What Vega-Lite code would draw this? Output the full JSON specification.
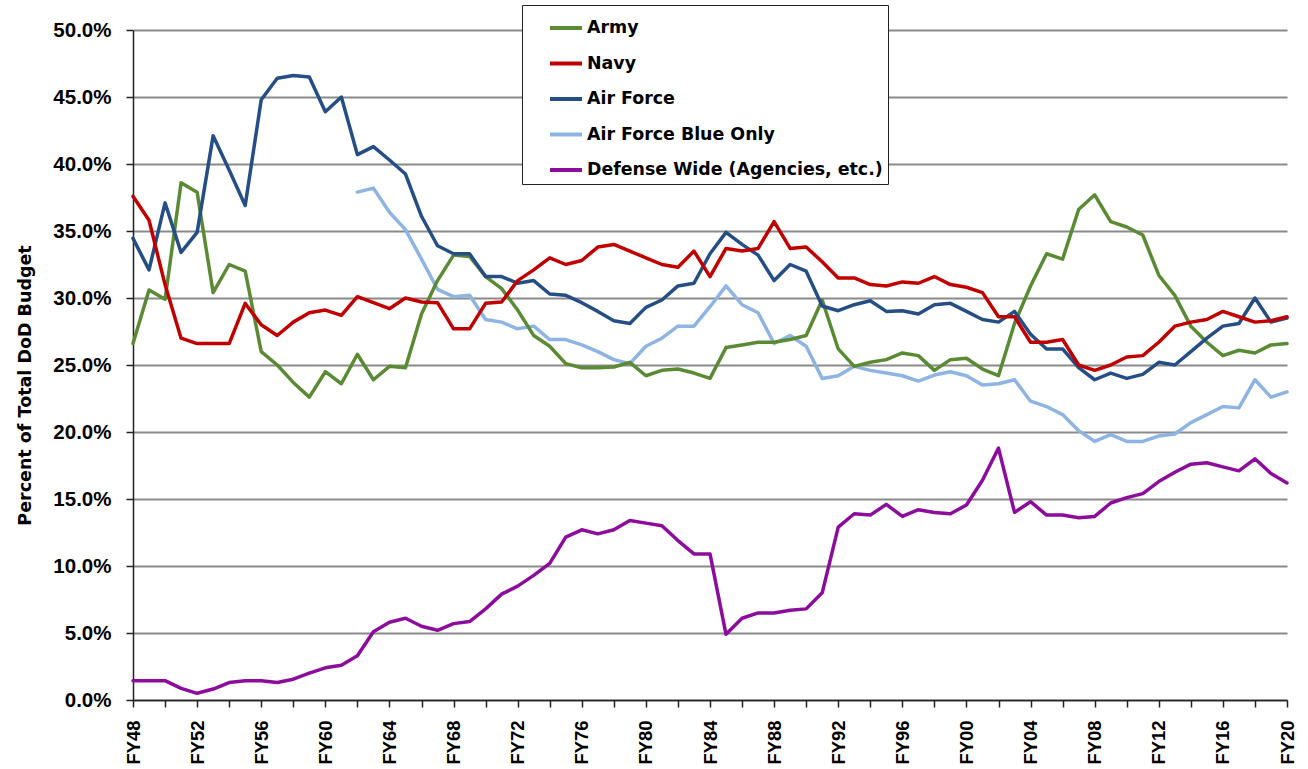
{
  "$schema": "https://vega.github.io/schema/vega-lite/v6.json",
  "width": 1154,
  "height": 670,
  "autosize": {"type": "none"},
  "padding": {"left": 133, "top": 30, "right": 21, "bottom": 69},
  "background": "white",
  "config": {"view": {"stroke": null}},
  "datasets": {
    "budget": [
      {"series":"Air Force Blue Only","year":1962,"pct":37.9},{"series":"Air Force Blue Only","year":1963,"pct":38.2},{"series":"Air Force Blue Only","year":1964,"pct":36.4},{"series":"Air Force Blue Only","year":1965,"pct":35.1},{"series":"Air Force Blue Only","year":1966,"pct":32.9},{"series":"Air Force Blue Only","year":1967,"pct":30.65},{"series":"Air Force Blue Only","year":1968,"pct":30.1},{"series":"Air Force Blue Only","year":1969,"pct":30.2},{"series":"Air Force Blue Only","year":1970,"pct":28.4},{"series":"Air Force Blue Only","year":1971,"pct":28.2},{"series":"Air Force Blue Only","year":1972,"pct":27.7},{"series":"Air Force Blue Only","year":1973,"pct":27.9},{"series":"Air Force Blue Only","year":1974,"pct":26.9},{"series":"Air Force Blue Only","year":1975,"pct":26.9},{"series":"Air Force Blue Only","year":1976,"pct":26.5},{"series":"Air Force Blue Only","year":1977,"pct":26.0},{"series":"Air Force Blue Only","year":1978,"pct":25.4},{"series":"Air Force Blue Only","year":1979,"pct":25.1},{"series":"Air Force Blue Only","year":1980,"pct":26.4},{"series":"Air Force Blue Only","year":1981,"pct":27.0},{"series":"Air Force Blue Only","year":1982,"pct":27.9},{"series":"Air Force Blue Only","year":1983,"pct":27.9},{"series":"Air Force Blue Only","year":1984,"pct":29.35},{"series":"Air Force Blue Only","year":1985,"pct":30.9},{"series":"Air Force Blue Only","year":1986,"pct":29.5},{"series":"Air Force Blue Only","year":1987,"pct":28.9},{"series":"Air Force Blue Only","year":1988,"pct":26.6},{"series":"Air Force Blue Only","year":1989,"pct":27.2},{"series":"Air Force Blue Only","year":1990,"pct":26.4},{"series":"Air Force Blue Only","year":1991,"pct":24.0},{"series":"Air Force Blue Only","year":1992,"pct":24.2},{"series":"Air Force Blue Only","year":1993,"pct":24.9},{"series":"Air Force Blue Only","year":1994,"pct":24.6},{"series":"Air Force Blue Only","year":1995,"pct":24.4},{"series":"Air Force Blue Only","year":1996,"pct":24.2},{"series":"Air Force Blue Only","year":1997,"pct":23.8},{"series":"Air Force Blue Only","year":1998,"pct":24.25},{"series":"Air Force Blue Only","year":1999,"pct":24.5},{"series":"Air Force Blue Only","year":2000,"pct":24.2},{"series":"Air Force Blue Only","year":2001,"pct":23.5},{"series":"Air Force Blue Only","year":2002,"pct":23.6},{"series":"Air Force Blue Only","year":2003,"pct":23.9},{"series":"Air Force Blue Only","year":2004,"pct":22.3},{"series":"Air Force Blue Only","year":2005,"pct":21.9},{"series":"Air Force Blue Only","year":2006,"pct":21.3},{"series":"Air Force Blue Only","year":2007,"pct":20.1},{"series":"Air Force Blue Only","year":2008,"pct":19.3},{"series":"Air Force Blue Only","year":2009,"pct":19.8},{"series":"Air Force Blue Only","year":2010,"pct":19.3},{"series":"Air Force Blue Only","year":2011,"pct":19.3},{"series":"Air Force Blue Only","year":2012,"pct":19.7},{"series":"Air Force Blue Only","year":2013,"pct":19.85},{"series":"Air Force Blue Only","year":2014,"pct":20.7},{"series":"Air Force Blue Only","year":2015,"pct":21.3},{"series":"Air Force Blue Only","year":2016,"pct":21.9},{"series":"Air Force Blue Only","year":2017,"pct":21.8},{"series":"Air Force Blue Only","year":2018,"pct":23.9},{"series":"Air Force Blue Only","year":2019,"pct":22.6},{"series":"Air Force Blue Only","year":2020,"pct":23.0},

      {"series":"Defense Wide (Agencies, etc.)","year":1948,"pct":1.44},{"series":"Defense Wide (Agencies, etc.)","year":1949,"pct":1.44},{"series":"Defense Wide (Agencies, etc.)","year":1950,"pct":1.44},{"series":"Defense Wide (Agencies, etc.)","year":1951,"pct":0.87},{"series":"Defense Wide (Agencies, etc.)","year":1952,"pct":0.5},{"series":"Defense Wide (Agencies, etc.)","year":1953,"pct":0.82},{"series":"Defense Wide (Agencies, etc.)","year":1954,"pct":1.3},{"series":"Defense Wide (Agencies, etc.)","year":1955,"pct":1.44},{"series":"Defense Wide (Agencies, etc.)","year":1956,"pct":1.44},{"series":"Defense Wide (Agencies, etc.)","year":1957,"pct":1.3},{"series":"Defense Wide (Agencies, etc.)","year":1958,"pct":1.55},{"series":"Defense Wide (Agencies, etc.)","year":1959,"pct":2.0},{"series":"Defense Wide (Agencies, etc.)","year":1960,"pct":2.4},{"series":"Defense Wide (Agencies, etc.)","year":1961,"pct":2.6},{"series":"Defense Wide (Agencies, etc.)","year":1962,"pct":3.3},{"series":"Defense Wide (Agencies, etc.)","year":1963,"pct":5.1},{"series":"Defense Wide (Agencies, etc.)","year":1964,"pct":5.8},{"series":"Defense Wide (Agencies, etc.)","year":1965,"pct":6.1},{"series":"Defense Wide (Agencies, etc.)","year":1966,"pct":5.5},{"series":"Defense Wide (Agencies, etc.)","year":1967,"pct":5.2},{"series":"Defense Wide (Agencies, etc.)","year":1968,"pct":5.7},{"series":"Defense Wide (Agencies, etc.)","year":1969,"pct":5.85},{"series":"Defense Wide (Agencies, etc.)","year":1970,"pct":6.8},{"series":"Defense Wide (Agencies, etc.)","year":1971,"pct":7.9},{"series":"Defense Wide (Agencies, etc.)","year":1972,"pct":8.5},{"series":"Defense Wide (Agencies, etc.)","year":1973,"pct":9.3},{"series":"Defense Wide (Agencies, etc.)","year":1974,"pct":10.2},{"series":"Defense Wide (Agencies, etc.)","year":1975,"pct":12.15},{"series":"Defense Wide (Agencies, etc.)","year":1976,"pct":12.7},{"series":"Defense Wide (Agencies, etc.)","year":1977,"pct":12.4},{"series":"Defense Wide (Agencies, etc.)","year":1978,"pct":12.7},{"series":"Defense Wide (Agencies, etc.)","year":1979,"pct":13.4},{"series":"Defense Wide (Agencies, etc.)","year":1980,"pct":13.2},{"series":"Defense Wide (Agencies, etc.)","year":1981,"pct":13.0},{"series":"Defense Wide (Agencies, etc.)","year":1982,"pct":11.9},{"series":"Defense Wide (Agencies, etc.)","year":1983,"pct":10.9},{"series":"Defense Wide (Agencies, etc.)","year":1984,"pct":10.9},{"series":"Defense Wide (Agencies, etc.)","year":1985,"pct":4.9},{"series":"Defense Wide (Agencies, etc.)","year":1986,"pct":6.1},{"series":"Defense Wide (Agencies, etc.)","year":1987,"pct":6.5},{"series":"Defense Wide (Agencies, etc.)","year":1988,"pct":6.5},{"series":"Defense Wide (Agencies, etc.)","year":1989,"pct":6.7},{"series":"Defense Wide (Agencies, etc.)","year":1990,"pct":6.8},{"series":"Defense Wide (Agencies, etc.)","year":1991,"pct":8.0},{"series":"Defense Wide (Agencies, etc.)","year":1992,"pct":12.9},{"series":"Defense Wide (Agencies, etc.)","year":1993,"pct":13.9},{"series":"Defense Wide (Agencies, etc.)","year":1994,"pct":13.8},{"series":"Defense Wide (Agencies, etc.)","year":1995,"pct":14.6},{"series":"Defense Wide (Agencies, etc.)","year":1996,"pct":13.7},{"series":"Defense Wide (Agencies, etc.)","year":1997,"pct":14.2},{"series":"Defense Wide (Agencies, etc.)","year":1998,"pct":14.0},{"series":"Defense Wide (Agencies, etc.)","year":1999,"pct":13.9},{"series":"Defense Wide (Agencies, etc.)","year":2000,"pct":14.55},{"series":"Defense Wide (Agencies, etc.)","year":2001,"pct":16.4},{"series":"Defense Wide (Agencies, etc.)","year":2002,"pct":18.8},{"series":"Defense Wide (Agencies, etc.)","year":2003,"pct":14.0},{"series":"Defense Wide (Agencies, etc.)","year":2004,"pct":14.8},{"series":"Defense Wide (Agencies, etc.)","year":2005,"pct":13.8},{"series":"Defense Wide (Agencies, etc.)","year":2006,"pct":13.8},{"series":"Defense Wide (Agencies, etc.)","year":2007,"pct":13.6},{"series":"Defense Wide (Agencies, etc.)","year":2008,"pct":13.7},{"series":"Defense Wide (Agencies, etc.)","year":2009,"pct":14.7},{"series":"Defense Wide (Agencies, etc.)","year":2010,"pct":15.1},{"series":"Defense Wide (Agencies, etc.)","year":2011,"pct":15.4},{"series":"Defense Wide (Agencies, etc.)","year":2012,"pct":16.3},{"series":"Defense Wide (Agencies, etc.)","year":2013,"pct":17.0},{"series":"Defense Wide (Agencies, etc.)","year":2014,"pct":17.6},{"series":"Defense Wide (Agencies, etc.)","year":2015,"pct":17.7},{"series":"Defense Wide (Agencies, etc.)","year":2016,"pct":17.4},{"series":"Defense Wide (Agencies, etc.)","year":2017,"pct":17.1},{"series":"Defense Wide (Agencies, etc.)","year":2018,"pct":18.0},{"series":"Defense Wide (Agencies, etc.)","year":2019,"pct":16.9},{"series":"Defense Wide (Agencies, etc.)","year":2020,"pct":16.2},

      {"series":"Army","year":1948,"pct":26.6},{"series":"Army","year":1949,"pct":30.6},{"series":"Army","year":1950,"pct":29.9},{"series":"Army","year":1951,"pct":38.6},{"series":"Army","year":1952,"pct":37.9},{"series":"Army","year":1953,"pct":30.4},{"series":"Army","year":1954,"pct":32.5},{"series":"Army","year":1955,"pct":32.0},{"series":"Army","year":1956,"pct":26.0},{"series":"Army","year":1957,"pct":25.0},{"series":"Army","year":1958,"pct":23.7},{"series":"Army","year":1959,"pct":22.6},{"series":"Army","year":1960,"pct":24.5},{"series":"Army","year":1961,"pct":23.6},{"series":"Army","year":1962,"pct":25.8},{"series":"Army","year":1963,"pct":23.9},{"series":"Army","year":1964,"pct":24.9},{"series":"Army","year":1965,"pct":24.8},{"series":"Army","year":1966,"pct":28.8},{"series":"Army","year":1967,"pct":31.3},{"series":"Army","year":1968,"pct":33.2},{"series":"Army","year":1969,"pct":33.1},{"series":"Army","year":1970,"pct":31.6},{"series":"Army","year":1971,"pct":30.7},{"series":"Army","year":1972,"pct":29.1},{"series":"Army","year":1973,"pct":27.2},{"series":"Army","year":1974,"pct":26.4},{"series":"Army","year":1975,"pct":25.1},{"series":"Army","year":1976,"pct":24.8},{"series":"Army","year":1977,"pct":24.8},{"series":"Army","year":1978,"pct":24.85},{"series":"Army","year":1979,"pct":25.2},{"series":"Army","year":1980,"pct":24.2},{"series":"Army","year":1981,"pct":24.6},{"series":"Army","year":1982,"pct":24.7},{"series":"Army","year":1983,"pct":24.4},{"series":"Army","year":1984,"pct":24.0},{"series":"Army","year":1985,"pct":26.3},{"series":"Army","year":1986,"pct":26.5},{"series":"Army","year":1987,"pct":26.7},{"series":"Army","year":1988,"pct":26.7},{"series":"Army","year":1989,"pct":26.9},{"series":"Army","year":1990,"pct":27.2},{"series":"Army","year":1991,"pct":29.85},{"series":"Army","year":1992,"pct":26.2},{"series":"Army","year":1993,"pct":24.9},{"series":"Army","year":1994,"pct":25.2},{"series":"Army","year":1995,"pct":25.4},{"series":"Army","year":1996,"pct":25.9},{"series":"Army","year":1997,"pct":25.7},{"series":"Army","year":1998,"pct":24.6},{"series":"Army","year":1999,"pct":25.4},{"series":"Army","year":2000,"pct":25.5},{"series":"Army","year":2001,"pct":24.7},{"series":"Army","year":2002,"pct":24.2},{"series":"Army","year":2003,"pct":28.1},{"series":"Army","year":2004,"pct":30.9},{"series":"Army","year":2005,"pct":33.3},{"series":"Army","year":2006,"pct":32.9},{"series":"Army","year":2007,"pct":36.6},{"series":"Army","year":2008,"pct":37.7},{"series":"Army","year":2009,"pct":35.7},{"series":"Army","year":2010,"pct":35.3},{"series":"Army","year":2011,"pct":34.7},{"series":"Army","year":2012,"pct":31.7},{"series":"Army","year":2013,"pct":30.2},{"series":"Army","year":2014,"pct":27.9},{"series":"Army","year":2015,"pct":26.7},{"series":"Army","year":2016,"pct":25.7},{"series":"Army","year":2017,"pct":26.1},{"series":"Army","year":2018,"pct":25.9},{"series":"Army","year":2019,"pct":26.5},{"series":"Army","year":2020,"pct":26.6},

      {"series":"Air Force","year":1948,"pct":34.45},{"series":"Air Force","year":1949,"pct":32.1},{"series":"Air Force","year":1950,"pct":37.1},{"series":"Air Force","year":1951,"pct":33.4},{"series":"Air Force","year":1952,"pct":34.9},{"series":"Air Force","year":1953,"pct":42.1},{"series":"Air Force","year":1954,"pct":39.55},{"series":"Air Force","year":1955,"pct":36.9},{"series":"Air Force","year":1956,"pct":44.8},{"series":"Air Force","year":1957,"pct":46.4},{"series":"Air Force","year":1958,"pct":46.6},{"series":"Air Force","year":1959,"pct":46.5},{"series":"Air Force","year":1960,"pct":43.9},{"series":"Air Force","year":1961,"pct":45.0},{"series":"Air Force","year":1962,"pct":40.7},{"series":"Air Force","year":1963,"pct":41.3},{"series":"Air Force","year":1964,"pct":40.3},{"series":"Air Force","year":1965,"pct":39.25},{"series":"Air Force","year":1966,"pct":36.1},{"series":"Air Force","year":1967,"pct":33.9},{"series":"Air Force","year":1968,"pct":33.3},{"series":"Air Force","year":1969,"pct":33.3},{"series":"Air Force","year":1970,"pct":31.6},{"series":"Air Force","year":1971,"pct":31.6},{"series":"Air Force","year":1972,"pct":31.1},{"series":"Air Force","year":1973,"pct":31.3},{"series":"Air Force","year":1974,"pct":30.3},{"series":"Air Force","year":1975,"pct":30.2},{"series":"Air Force","year":1976,"pct":29.65},{"series":"Air Force","year":1977,"pct":29.0},{"series":"Air Force","year":1978,"pct":28.3},{"series":"Air Force","year":1979,"pct":28.1},{"series":"Air Force","year":1980,"pct":29.3},{"series":"Air Force","year":1981,"pct":29.85},{"series":"Air Force","year":1982,"pct":30.9},{"series":"Air Force","year":1983,"pct":31.1},{"series":"Air Force","year":1984,"pct":33.3},{"series":"Air Force","year":1985,"pct":34.9},{"series":"Air Force","year":1986,"pct":34.0},{"series":"Air Force","year":1987,"pct":33.2},{"series":"Air Force","year":1988,"pct":31.3},{"series":"Air Force","year":1989,"pct":32.5},{"series":"Air Force","year":1990,"pct":32.0},{"series":"Air Force","year":1991,"pct":29.4},{"series":"Air Force","year":1992,"pct":29.05},{"series":"Air Force","year":1993,"pct":29.5},{"series":"Air Force","year":1994,"pct":29.8},{"series":"Air Force","year":1995,"pct":29.0},{"series":"Air Force","year":1996,"pct":29.05},{"series":"Air Force","year":1997,"pct":28.8},{"series":"Air Force","year":1998,"pct":29.5},{"series":"Air Force","year":1999,"pct":29.6},{"series":"Air Force","year":2000,"pct":29.0},{"series":"Air Force","year":2001,"pct":28.4},{"series":"Air Force","year":2002,"pct":28.2},{"series":"Air Force","year":2003,"pct":29.0},{"series":"Air Force","year":2004,"pct":27.3},{"series":"Air Force","year":2005,"pct":26.2},{"series":"Air Force","year":2006,"pct":26.2},{"series":"Air Force","year":2007,"pct":24.8},{"series":"Air Force","year":2008,"pct":23.9},{"series":"Air Force","year":2009,"pct":24.4},{"series":"Air Force","year":2010,"pct":24.0},{"series":"Air Force","year":2011,"pct":24.3},{"series":"Air Force","year":2012,"pct":25.2},{"series":"Air Force","year":2013,"pct":25.0},{"series":"Air Force","year":2014,"pct":26.0},{"series":"Air Force","year":2015,"pct":27.0},{"series":"Air Force","year":2016,"pct":27.9},{"series":"Air Force","year":2017,"pct":28.1},{"series":"Air Force","year":2018,"pct":30.0},{"series":"Air Force","year":2019,"pct":28.2},{"series":"Air Force","year":2020,"pct":28.5},

      {"series":"Navy","year":1948,"pct":37.6},{"series":"Navy","year":1949,"pct":35.8},{"series":"Navy","year":1950,"pct":31.0},{"series":"Navy","year":1951,"pct":27.0},{"series":"Navy","year":1952,"pct":26.6},{"series":"Navy","year":1953,"pct":26.6},{"series":"Navy","year":1954,"pct":26.6},{"series":"Navy","year":1955,"pct":29.6},{"series":"Navy","year":1956,"pct":28.0},{"series":"Navy","year":1957,"pct":27.2},{"series":"Navy","year":1958,"pct":28.2},{"series":"Navy","year":1959,"pct":28.9},{"series":"Navy","year":1960,"pct":29.1},{"series":"Navy","year":1961,"pct":28.7},{"series":"Navy","year":1962,"pct":30.1},{"series":"Navy","year":1963,"pct":29.65},{"series":"Navy","year":1964,"pct":29.2},{"series":"Navy","year":1965,"pct":30.0},{"series":"Navy","year":1966,"pct":29.7},{"series":"Navy","year":1967,"pct":29.65},{"series":"Navy","year":1968,"pct":27.7},{"series":"Navy","year":1969,"pct":27.7},{"series":"Navy","year":1970,"pct":29.6},{"series":"Navy","year":1971,"pct":29.7},{"series":"Navy","year":1972,"pct":31.3},{"series":"Navy","year":1973,"pct":32.1},{"series":"Navy","year":1974,"pct":33.0},{"series":"Navy","year":1975,"pct":32.5},{"series":"Navy","year":1976,"pct":32.8},{"series":"Navy","year":1977,"pct":33.8},{"series":"Navy","year":1978,"pct":34.0},{"series":"Navy","year":1979,"pct":33.5},{"series":"Navy","year":1980,"pct":33.0},{"series":"Navy","year":1981,"pct":32.5},{"series":"Navy","year":1982,"pct":32.3},{"series":"Navy","year":1983,"pct":33.5},{"series":"Navy","year":1984,"pct":31.6},{"series":"Navy","year":1985,"pct":33.7},{"series":"Navy","year":1986,"pct":33.5},{"series":"Navy","year":1987,"pct":33.7},{"series":"Navy","year":1988,"pct":35.7},{"series":"Navy","year":1989,"pct":33.7},{"series":"Navy","year":1990,"pct":33.8},{"series":"Navy","year":1991,"pct":32.7},{"series":"Navy","year":1992,"pct":31.5},{"series":"Navy","year":1993,"pct":31.5},{"series":"Navy","year":1994,"pct":31.0},{"series":"Navy","year":1995,"pct":30.9},{"series":"Navy","year":1996,"pct":31.2},{"series":"Navy","year":1997,"pct":31.1},{"series":"Navy","year":1998,"pct":31.6},{"series":"Navy","year":1999,"pct":31.0},{"series":"Navy","year":2000,"pct":30.8},{"series":"Navy","year":2001,"pct":30.4},{"series":"Navy","year":2002,"pct":28.6},{"series":"Navy","year":2003,"pct":28.6},{"series":"Navy","year":2004,"pct":26.7},{"series":"Navy","year":2005,"pct":26.7},{"series":"Navy","year":2006,"pct":26.9},{"series":"Navy","year":2007,"pct":25.0},{"series":"Navy","year":2008,"pct":24.6},{"series":"Navy","year":2009,"pct":25.0},{"series":"Navy","year":2010,"pct":25.6},{"series":"Navy","year":2011,"pct":25.7},{"series":"Navy","year":2012,"pct":26.7},{"series":"Navy","year":2013,"pct":27.9},{"series":"Navy","year":2014,"pct":28.2},{"series":"Navy","year":2015,"pct":28.4},{"series":"Navy","year":2016,"pct":29.0},{"series":"Navy","year":2017,"pct":28.6},{"series":"Navy","year":2018,"pct":28.2},{"series":"Navy","year":2019,"pct":28.3},{"series":"Navy","year":2020,"pct":28.6}
    ]
  },
  "data": {"name": "budget"},
  "mark": {"type": "line", "strokeWidth": 3.5, "strokeJoin": "round", "strokeCap": "round"},
  "encoding": {
    "x": {
      "field": "year",
      "type": "quantitative",
      "scale": {"domain": [1948, 2020], "nice": false, "zero": false},
      "axis": {
        "title": null,
        "values": [1948,1950,1952,1954,1956,1958,1960,1962,1964,1966,1968,1970,1972,1974,1976,1978,1980,1982,1984,1986,1988,1990,1992,1994,1996,1998,2000,2002,2004,2006,2008,2010,2012,2014,2016,2018,2020],
        "labelExpr": "datum.value % 4 == 0 ? 'FY' + (datum.value % 100 < 10 ? '0' : '') + (datum.value % 100) : ''",
        "labelAngle": -90,
        "labelAlign": "right",
        "labelBaseline": "middle",
        "labelFont": "Liberation Sans",
        "labelFontWeight": "bold",
        "labelFontSize": 18.4,
        "labelColor": "black",
        "labelPadding": 13,
        "labelOverlap": false,
        "labelFlush": false,
        "tickSize": 7,
        "tickColor": "#222",
        "tickWidth": 1.5,
        "domainColor": "#222",
        "domainWidth": 1.5,
        "grid": false
      }
    },
    "y": {
      "field": "pct",
      "type": "quantitative",
      "scale": {"domain": [0, 50], "nice": false},
      "axis": {
        "title": "Percent of Total DoD Budget",
        "titleFont": "DejaVu Sans",
        "titleFontWeight": "bold",
        "titleFontSize": 17.5,
        "titleColor": "black",
        "titleX": -108,
        "titleY": 355,
        "titleAngle": -90,
        "titleAlign": "center",
        "titleBaseline": "middle",
        "values": [0,5,10,15,20,25,30,35,40,45,50],
        "labelExpr": "format(datum.value, '.1f') + '%'",
        "labelFont": "Liberation Sans",
        "labelFontWeight": "bold",
        "labelFontSize": 20.5,
        "labelColor": "black",
        "labelPadding": 15,
        "tickSize": 7,
        "tickColor": "#222",
        "tickWidth": 1.5,
        "domainColor": "#222",
        "domainWidth": 1.5,
        "grid": true,
        "gridColor": "#8a8a8a",
        "gridWidth": 2
      }
    },
    "color": {
      "field": "series",
      "type": "nominal",
      "scale": {
        "domain": ["Army", "Navy", "Air Force", "Air Force Blue Only", "Defense Wide (Agencies, etc.)"],
        "range": ["#5B8A34", "#C00000", "#254E85", "#8DB4E2", "#8C0C9B"]
      },
      "legend": {
        "orient": "none",
        "legendX": 389,
        "legendY": -25,
        "title": null,
        "symbolType": "stroke",
        "symbolSize": 1024,
        "symbolStrokeWidth": 4,
        "symbolOffset": 21,
        "labelFont": "DejaVu Sans",
        "labelFontSize": 17.4,
        "labelFontWeight": "bold",
        "labelColor": "black",
        "labelOffset": 3,
        "labelLimit": 400,
        "rowPadding": 8.5,
        "padding": 5,
        "strokeColor": "#222",
        "fillColor": "white"
      }
    }
  }
}
